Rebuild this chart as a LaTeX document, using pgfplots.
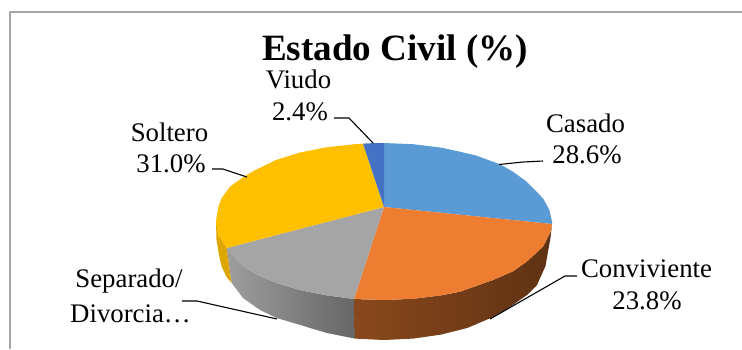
\documentclass[border=0pt]{standalone}
\usepackage{fontspec}
\setmainfont{Liberation Serif}
\usepackage{pgfplots}
\pgfplotsset{compat=1.18}
\definecolor{cblue}{HTML}{5B9BD5}
\definecolor{corange}{HTML}{ED7D31}
\definecolor{cgray}{HTML}{A5A5A5}
\definecolor{cyellow}{HTML}{FFC000}
\definecolor{cviudo}{HTML}{4472C4}
\definecolor{frameg}{HTML}{A6A6A6}
\tikzset{lbl/.style={anchor=base,inner sep=0pt,font=\fontsize{26.8}{30}\selectfont},
  lead/.style={black,line width=1.1pt,no markers}}
\begin{document}
\begin{tikzpicture}
\begin{axis}[scale only axis,width=742pt,height=349pt,xmin=0,xmax=742,ymin=0,ymax=349,
  y dir=reverse,axis lines=none,clip=true,
  every axis plot/.append style={line join=round}]
% page background and frame
\addplot[fill=white,draw=none,no markers] coordinates {(0,0)(742,0)(742,349)(0,349)} --cycle;
\addplot[frameg,line width=1.4pt,no markers] coordinates {(10,349)(10,12)(742,12)};
% side walls
\addplot[draw=none,fill=cyellow!87!black,no markers] coordinates {
 (226.7,248)(218.6,235.1)(216,221.5)(216.5,240)(219,255)(221.7,266.7)(226.5,277)(231.7,283)} --cycle;
\addplot[draw=none,left color=black!38,right color=black!60,no markers] coordinates {
 (226.7,248)(243,266.5)(260,276)(276.7,283)(300,290)(326.5,295.3)(354,299)
 (355,338.6)(326.9,333)(310,328)(300.5,325)(276.7,318)(260,310)(243,298)(231.7,283)} --cycle;
\addplot[draw=none,left color=corange!58!black,middle color=corange!40!black,right color=corange!40!black,no markers] coordinates {
 (354,299)(384,300)(413.2,298.8)(441.5,295.3)(460,291.7)(493,280)(512.7,271.5)(526.7,261.7)(543,246.7)(550.7,231.7)(552,224)
 (550.5,238)(548.3,250)(545.5,266)(537,285)(527,295)(510,307)(490,318.3)(467.5,327.9)(441.1,334.6)(413,338.6)(384,340)(355,338.6)} --cycle;
% top face: Casado 28.6
\addplot[draw=none,fill=cblue,no markers] coordinates {
 (384,207)(384,143)(413.2,144.2)(441.5,147.7)(460,151.7)(476.7,155.7)(500,164.3)(512.7,171.5)(526.7,181.7)(543,198.3)(549.4,210)(552,221.5)(552,224)} --cycle;
% Conviviente 23.8
\addplot[draw=none,fill=corange,no markers] coordinates {
 (384,207)(552,224)(550.7,231.7)(543,246.7)(526.7,261.7)(512.7,271.5)(493,280)(460,291.7)(441.5,295.3)(413.2,298.8)(384,300)(354,299)} --cycle;
% Separado/Divorciado 14.3
\addplot[draw=none,fill=cgray,no markers] coordinates {
 (384,207)(354,299)(326.5,295.3)(300,290)(276.7,283)(260,276)(243,266.5)(226.7,248)} --cycle;
% Soltero 31.0
\addplot[draw=none,fill=cyellow,no markers] coordinates {
 (384,207)(226.7,248)(218.6,235.1)(216,222)(216.7,216)(218.6,206)(221.7,198)(230,186.7)(238.5,180.5)(246.7,175)(255.3,170)(276,160)(300,152.5)(326.5,147.3)(354.8,144.2)(363,143.6)} --cycle;
% Viudo 2.4
\addplot[draw=none,fill=cviudo,no markers] coordinates {
 (384,207)(363,143.6)(374,143.1)(384,143)} --cycle;
% leader lines
\addplot[lead] coordinates {(334,118)(349,118)(373,143)};
\addplot[lead] coordinates {(212,169)(223,169)(247,177)};
\addplot[lead] coordinates {(543,161)(523,162)(499,164.5)};
\addplot[lead] coordinates {(577,276)(565,276)(490,319)};
\addplot[lead] coordinates {(182,301)(197,301)(277,319)};
% text
\node[anchor=base,inner sep=0pt,font=\fontsize{37.1}{40}\selectfont\bfseries] at (axis cs:395,60) {Estado Civil (\%)};
\node[lbl] at (axis cs:298.5,88) {Viudo};
\node[lbl] at (axis cs:300,120) {2.4\%};
\node[lbl] at (axis cs:169.5,141) {Soltero};
\node[lbl] at (axis cs:171,172) {31.0\%};
\node[lbl] at (axis cs:585.5,132) {Casado};
\node[lbl] at (axis cs:587,163) {28.6\%};
\node[lbl] at (axis cs:646.5,277) {Conviviente};
\node[lbl] at (axis cs:647,309) {23.8\%};
\node[lbl] at (axis cs:129,287) {Separado/};
\node[lbl] at (axis cs:130.5,322) {Divorcia…};
\end{axis}
\end{tikzpicture}
\end{document}
